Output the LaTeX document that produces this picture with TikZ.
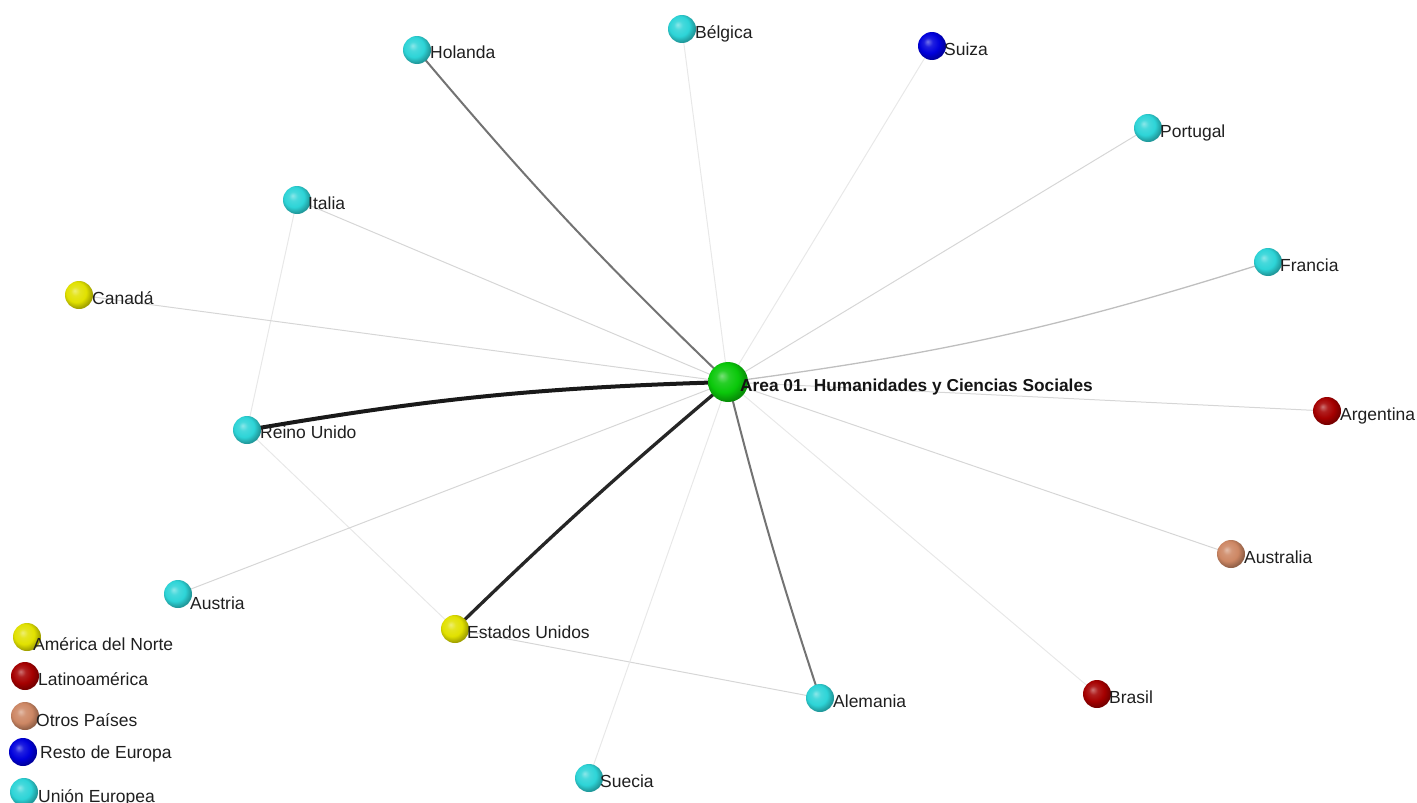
\documentclass[tikz,border=0pt]{standalone}
\usepackage{fontspec}
\setmainfont{Liberation Sans}
\usetikzlibrary{backgrounds}
\definecolor{ceu}{RGB}{45,212,215}
\definecolor{cna}{RGB}{225,225,0}
\definecolor{cla}{RGB}{165,0,0}
\definecolor{cot}{RGB}{205,135,100}
\definecolor{cre}{RGB}{0,0,220}
\definecolor{ccen}{RGB}{10,200,10}
\makeatletter
\pgfdeclareradialshading[tikz@ball]{ball}{\pgfqpoint{-8bp}{8bp}}{%
  color(0bp)=(tikz@ball!55!white);
  color(8bp)=(tikz@ball!88!white);
  color(18bp)=(tikz@ball);
  color(27bp)=(tikz@ball!72!black);
  color(50bp)=(tikz@ball!50!black)}
\makeatother
\tikzset{
  ball/.style={circle, minimum size=28pt, inner sep=0pt, shading=ball, ball color=#1},
  bigball/.style={circle, minimum size=40pt, inner sep=0pt, shading=ball, ball color=#1},
  lbl/.style={anchor=base west, font=\fontsize{17.5}{20}\selectfont, inner sep=0pt, text=black!88},
  clbl/.style={anchor=base west, font=\bfseries\fontsize{17.3}{20}\selectfont, inner sep=0pt, text=black!92},
  ethick/.style={draw=black!90, line width=4pt},
  ethickb/.style={draw=black!85, line width=3.3pt},
  emid/.style={draw=black!55, line width=2pt},
  efr/.style={draw=black!25, line width=1.3pt},
  elight/.style={draw=black!16, line width=1pt},
  evlight/.style={draw=black!9, line width=1pt}
}
\begin{document}
\begin{tikzpicture}[x=1pt,y=-1pt]
\useasboundingbox (0,0) rectangle (1417,803);
% nodes
\node[bigball=ccen] (cen) at (728,382) {};
\node[ball=ceu] (hol) at (417,50) {};
\node[ball=ceu] (bel) at (682,29) {};
\node[ball=cre] (sui) at (932,46) {};
\node[ball=ceu] (por) at (1148,128) {};
\node[ball=ceu] (ita) at (297,200) {};
\node[ball=ceu] (fra) at (1268,262) {};
\node[ball=cna] (can) at (79,295) {};
\node[ball=ceu] (ru) at (247,430) {};
\node[ball=cla] (arg) at (1327,411) {};
\node[ball=cot] (aus) at (1231,554) {};
\node[ball=ceu] (ast) at (178,594) {};
\node[ball=cna] (eeuu) at (455,629) {};
\node[ball=ceu] (ale) at (820,698) {};
\node[ball=cla] (bra) at (1097,694) {};
\node[ball=ceu] (sue) at (589,778) {};
% labels
\node[clbl] (cen-t) at (740,391) {Area 01. Humanidades y Ciencias Sociales};
\node[lbl] (hol-t) at (430,58) {Holanda};
\node[lbl] (bel-t) at (695,38) {Bélgica};
\node[lbl] (sui-t) at (944,55) {Suiza};
\node[lbl] (por-t) at (1160,137) {Portugal};
\node[lbl] (ita-t) at (308,209) {Italia};
\node[lbl] (fra-t) at (1280,271) {Francia};
\node[lbl] (can-t) at (92,304) {Canadá};
\node[lbl] (ru-t) at (260,438) {Reino Unido};
\node[lbl] (arg-t) at (1340,420) {Argentina};
\node[lbl] (aus-t) at (1244,563) {Australia};
\node[lbl] (ast-t) at (190,609) {Austria};
\node[lbl] (eeuu-t) at (467,638) {Estados Unidos};
\node[lbl] (ale-t) at (833,707) {Alemania};
\node[lbl] (bra-t) at (1109,703) {Brasil};
\node[lbl] (sue-t) at (600,787) {Suecia};
% legend
\node[ball=cna] (lg1) at (27,637) {};
\node[ball=cla] (lg2) at (25,676) {};
\node[ball=cot] (lg3) at (25,716) {};
\node[ball=cre] (lg4) at (23,752) {};
\node[ball=ceu] (lg5) at (24,792) {};
\node[lbl] (lg1-t) at (33,650) {América del Norte};
\node[lbl] (lg2-t) at (38,685) {Latinoamérica};
\node[lbl] (lg3-t) at (36,726) {Otros Países};
\node[lbl] (lg4-t) at (40,758) {Resto de Europa};
\node[lbl] (lg5-t) at (38,802) {Unión Europea};
% edges
\begin{scope}[on background layer]
\draw[evlight] (ita.center) -- (ru.center);
\draw[evlight] (ru.center) -- (eeuu.center);
\draw[elight] (eeuu.center) -- (ale.center);
\draw[evlight] (cen.center) -- (bel.center);
\draw[evlight] (cen.center) -- (sui.center);
\draw[evlight] (cen.center) -- (bra.center);
\draw[evlight] (cen.center) -- (sue.center);
\draw[elight] (cen.center) -- (por.center);
\draw[elight] (cen.center) -- (ita.center);
\draw[elight] (cen.center) -- (can.center);
\draw[elight] (cen.center) -- (arg.center);
\draw[elight] (cen.center) -- (aus.center);
\draw[elight] (cen.center) -- (ast.center);
\draw[efr] (cen.center) to[bend right=5] (fra.center);
\draw[emid] (cen.center) to[bend left=3] (hol.center);
\draw[emid] (cen.center) to[bend right=2] (ale.center);
\draw[ethick] (cen.center) to[bend right=4] (ru.center);
\draw[ethickb] (cen.center) to[bend right=2] (eeuu.center);
\end{scope}
\end{tikzpicture}
\end{document}
